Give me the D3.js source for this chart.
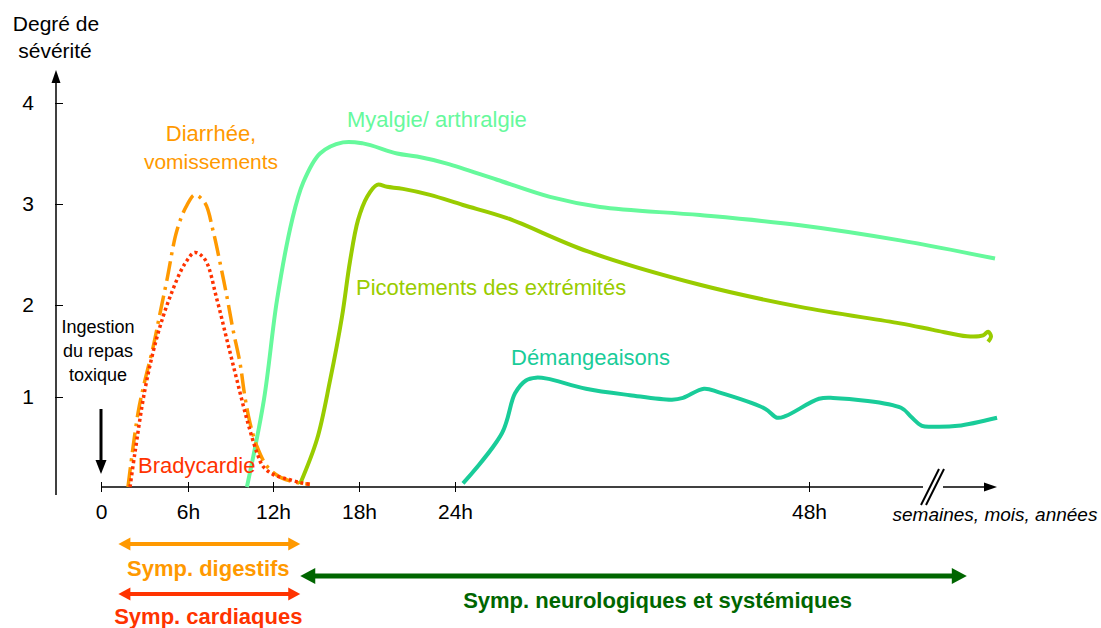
<!DOCTYPE html>
<html>
<head>
<meta charset="utf-8">
<script src="https://cdn.jsdelivr.net/npm/d3@7"></script>
<style>
  body { margin: 0; background: #fff; }
  text { font-family: "Liberation Sans", Arial, sans-serif; }
</style>
</head>
<body>
<svg id="chart" width="1101" height="628"></svg>
<script>
// axis ticks
const xTicks = [0, 6, 12, 18, 24, 48];
const xTickLabels = ["0", "6h", "12h", "18h", "24h", "48h"];
const yTicks = [1, 2, 3, 4];

// curves: [hours, severity]
const diarrhee = [[1.86,0],[2.55,0.82],[3.03,1.18],[3.59,1.54],[4.07,1.91],[4.55,2.25],[5.24,2.74],[5.93,2.99],[6.49,3.09],[7.2,3.01],[7.76,2.74],[8.26,2.42],[8.75,2.08],[9.18,1.73],[9.67,1.37],[10.02,1.0],[10.38,0.71],[10.87,0.45],[11.58,0.23],[12.49,0.11],[13.67,0.05],[14.58,0.03]];
const bradycardie = [[2.0,0],[2.34,0.38],[3.03,1.08],[3.86,1.65],[4.76,2.08],[5.79,2.41],[6.49,2.52],[7.2,2.45],[8.05,2.05],[8.75,1.62],[9.46,1.18],[10.16,0.75],[10.87,0.38],[11.29,0.23],[12.0,0.14],[12.98,0.09],[13.88,0.05],[14.58,0.03]];
const myalgie = [[10.16,0],[11.36,0.97],[12.28,2.05],[13.33,2.84],[14.1,3.21],[15.28,3.5],[16.88,3.61],[18.25,3.6],[20.38,3.5],[21.63,3.47],[23.5,3.4],[26.85,3.24],[30.44,3.07],[33.83,2.97],[40.61,2.89],[47.39,2.79],[54.17,2.64],[60.61,2.46]];
const picotements = [[13.88,0.03],[15.07,0.53],[15.98,1.18],[16.81,1.87],[17.37,2.43],[17.93,2.84],[18.5,3.07],[19.13,3.19],[19.75,3.17],[20.75,3.15],[22.44,3.09],[24.54,2.99],[27.53,2.86],[33.0,2.53],[40.6,2.2],[47.39,1.98],[54.17,1.8],[56.41,1.73],[58.71,1.66],[59.8,1.67],[60.14,1.71],[60.34,1.66],[60.14,1.6]];
const demangeaisons = [[24.54,0.04],[27.19,0.6],[28.07,1.04],[28.81,1.18],[29.49,1.21],[30.24,1.2],[32.88,1.09],[35.86,1.02],[38.71,0.97],[39.46,0.99],[40.88,1.09],[41.9,1.05],[45.02,0.87],[45.83,0.77],[46.44,0.79],[48.68,0.98],[49.63,0.99],[54.24,0.88],[54.92,0.78],[55.66,0.68],[56.41,0.67],[58.1,0.68],[60.75,0.77]];

// symptom periods (hours)
const phaseNames = ["Symp. digestifs", "Symp. cardiaques", "Symp. neurologiques et systémiques"];
const phaseFrom = [1.2, 1.2, 13.9];
const phaseTo = [13.9, 13.9, 58.7];

const svg = d3.select("#chart");

// piecewise scales (the drawing is not to scale)
const x = d3.scaleLinear()
  .domain([0, 6, 12, 18, 24, 48])
  .range([101, 188, 273, 359, 455, 809]);
const y = d3.scaleLinear()
  .domain([0, 1, 2, 3, 4])
  .range([487, 397, 305, 204, 103]);

let arrowHead = (g, tipX, tipY, angle, len, wid, color) => {
  // angle in degrees, direction the arrow points
  g.append("path")
    .attr("d", `M0,0 L${-len},${-wid / 2} L${-len},${wid / 2} Z`)
    .attr("fill", color)
    .attr("transform", `translate(${tipX},${tipY}) rotate(${angle})`);
};

// ---- y axis ----
const yAxisX = 56;
const yG = svg.append("g").attr("transform", `translate(${yAxisX},0)`);
yG.call(d3.axisRight(y).tickValues(yTicks).tickSize(7).tickFormat(d3.format("d")));
yG.select(".domain").remove();
yG.selectAll(".tick line").attr("stroke", "#000").attr("x1", -1);
yG.selectAll(".tick text")
  .attr("x", -22).attr("dy", null).attr("y", 6)
  .attr("text-anchor", "end")
  .attr("font-size", 21).attr("fill", "#000");
svg.append("line")
  .attr("x1", yAxisX).attr("x2", yAxisX)
  .attr("y1", 495).attr("y2", 80)
  .attr("stroke", "#000").attr("stroke-width", 1.5);
arrowHead(svg, yAxisX, 70, -90, 13, 9, "#000");

svg.append("text").attr("x", 56).attr("y", 31).attr("text-anchor", "middle")
  .attr("font-size", 21).text("Degré de");
svg.append("text").attr("x", 55).attr("y", 58).attr("text-anchor", "middle")
  .attr("font-size", 21).text("sévérité");

// ---- x axis ----
const xAxisY = y(0);
const breakX = 923;
const xG = svg.append("g").attr("transform", `translate(0,${xAxisY})`);
xG.call(d3.axisBottom(x).tickValues(xTicks).tickSize(5)
  .tickFormat((d, i) => xTickLabels[i]));
xG.select(".domain").remove();
xG.selectAll(".tick line").attr("stroke", "#000").attr("y1", -5);
xG.selectAll(".tick text")
  .attr("y", 32).attr("dy", null)
  .attr("font-size", 21).attr("fill", "#000");

svg.append("line")
  .attr("x1", x(0)).attr("x2", breakX)
  .attr("y1", xAxisY).attr("y2", xAxisY)
  .attr("stroke", "#000").attr("stroke-width", 1.5);
// break marks
[0, 5].forEach(o => {
  svg.append("line")
    .attr("x1", breakX - 2 + o).attr("y1", xAxisY + 18)
    .attr("x2", breakX + 16 + o).attr("y2", xAxisY - 18)
    .attr("stroke", "#000").attr("stroke-width", 2);
});
svg.append("line")
  .attr("x1", breakX + 20).attr("x2", 986)
  .attr("y1", xAxisY).attr("y2", xAxisY)
  .attr("stroke", "#000").attr("stroke-width", 1.5);
arrowHead(svg, 997, xAxisY, 0, 13, 9, "#000");

svg.append("text").attr("x", 995).attr("y", 521).attr("text-anchor", "middle")
  .attr("font-size", 19).attr("font-style", "italic").text("semaines, mois, années");

// ---- ingestion marker ----
svg.append("text").attr("text-anchor", "middle").attr("font-size", 18)
  .selectAll("tspan")
  .data(["Ingestion", "du repas", "toxique"])
  .enter().append("tspan")
  .attr("x", 98)
  .attr("y", (d, i) => 333 + i * 24)
  .text(d => d);
svg.append("line")
  .attr("x1", 101).attr("x2", 101)
  .attr("y1", 409).attr("y2", 462)
  .attr("stroke", "#000").attr("stroke-width", 3);
arrowHead(svg, 101, 474, 90, 14, 11, "#000");

// ---- curves ----
const line = d3.line()
  .x(d => x(d[0]))
  .y(d => y(d[1]))
  .curve(d3.curveCatmullRom.alpha(0.5));

const curves = [
  { data: myalgie, color: "#66F99C", width: 4, dash: null },
  { data: picotements, color: "#99CC00", width: 4, dash: null },
  { data: demangeaisons, color: "#19CC99", width: 4, dash: null },
  { data: diarrhee, color: "#FF9900", width: 3.5, dash: "20,6,3,6" },
  { data: bradycardie, color: "#FF3300", width: 3.5, dash: "3,3" }
];

svg.selectAll(".curve")
  .data(curves)
  .enter()
  .append("path")
  .attr("class", "curve")
  .attr("d", d => line(d.data))
  .attr("fill", "none")
  .attr("stroke", d => d.color)
  .attr("stroke-width", d => d.width)
  .attr("stroke-dasharray", d => d.dash)
  .attr("stroke-linecap", "butt");

// curve labels
const labels = [
  { t: "Diarrhée,", x: 211, y: 141, a: "middle", c: "#FF9900", s: 22 },
  { t: "vomissements", x: 211, y: 169, a: "middle", c: "#FF9900", s: 21 },
  { t: "Myalgie/ arthralgie", x: 347, y: 127, a: "start", c: "#66F99C", s: 22 },
  { t: "Picotements des extrémités", x: 356, y: 295, a: "start", c: "#99CC00", s: 22 },
  { t: "Démangeaisons", x: 511, y: 365, a: "start", c: "#19CC99", s: 22 },
  { t: "Bradycardie", x: 138, y: 473, a: "start", c: "#FF3300", s: 22 }
];
svg.selectAll(".lbl")
  .data(labels)
  .enter()
  .append("text")
  .attr("class", "lbl")
  .attr("x", d => d.x).attr("y", d => d.y)
  .attr("text-anchor", d => d.a)
  .attr("fill", d => d.c)
  .attr("font-size", d => d.s)
  .text(d => d.t);

// ---- symptom periods ----
const phaseColor = ["#FF9900", "#FF3300", "#006600"];
const phaseLineY = [544, 594, 576];
const phaseTextY = [576, 624, 608];
const phaseWidth = [4, 4, 5];

phaseNames.forEach((name, i) => {
  const x1 = x(phaseFrom[i]);
  const x2 = x(phaseTo[i]);
  const hl = i == 2 ? 15 : 12;
  const hw = i == 2 ? 16 : 13;
  svg.append("line")
    .attr("x1", x1 + hl - 2).attr("x2", x2 - hl + 2)
    .attr("y1", phaseLineY[i]).attr("y2", phaseLineY[i])
    .attr("stroke", phaseColor[i]).attr("stroke-width", phaseWidth[i]);
  arrowHead(svg, x1, phaseLineY[i], 180, hl, hw, phaseColor[i]);
  arrowHead(svg, x2, phaseLineY[i], 0, hl, hw, phaseColor[i]);
  svg.append("text")
    .attr("x", i == 2 ? (x1 + x2) / 2 + 24 : (x1 + x2) / 2 - 1)
    .attr("y", phaseTextY[i])
    .attr("text-anchor", "middle")
    .attr("font-size", 22).attr("font-weight", "bold")
    .attr("fill", phaseColor[i])
    .text(name);
});
</script>
</body>
</html>
